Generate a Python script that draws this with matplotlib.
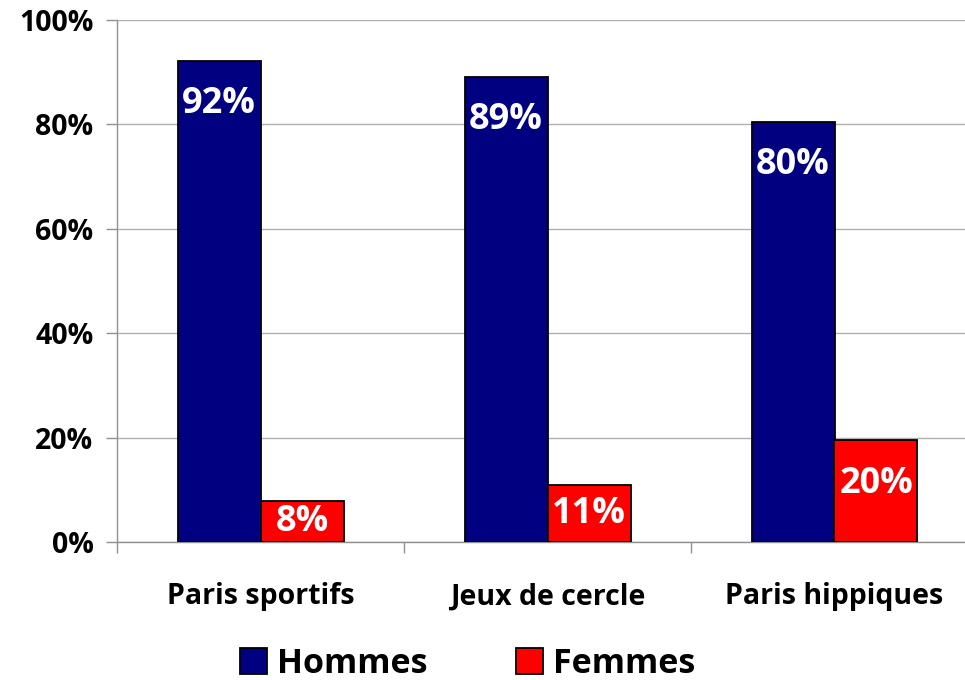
import matplotlib.pyplot as plt
import numpy as np

categories = ['Paris sportifs', 'Jeux de cercle', 'Paris hippiques']
hommes = [92.2, 89.1, 80.5]
femmes = [7.8, 10.9, 19.5]
hommes_labels = ['92%', '89%', '80%']
femmes_labels = ['8%', '11%', '20%']
yticks = [0, 20, 40, 60, 80, 100]

plt.rcParams['font.family'] = ['Open Sans', 'DejaVu Sans']
plt.rcParams['font.weight'] = 'bold'

fig = plt.figure(figsize=(9.65, 6.8), dpi=100)
ax = fig.add_axes([117 / 965, 1 - 542 / 680, 861 / 965, 522 / 680])

x = np.arange(len(categories))
w = 83 / 287
b1 = ax.bar(x - w / 2, hommes, w, color='#000080', edgecolor='black', linewidth=1.3,
            label='Hommes', zorder=3)
b2 = ax.bar(x + w / 2, femmes, w, color='#ff0000', edgecolor='black', linewidth=1.3,
            label='Femmes', zorder=3)

# labels inside the bar end, centred when the bar is too short
for i in range(len(categories)):
    ax.text(x[i] - w / 2, max(hommes[i] - 8.3, hommes[i] / 2), hommes_labels[i],
            ha='center', va='center', color='white', fontsize=26, fontweight='bold', zorder=4)
    ax.text(x[i] + w / 2, max(femmes[i] - 8.3, femmes[i] / 2), femmes_labels[i],
            ha='center', va='center', color='white', fontsize=26, fontweight='bold', zorder=4)

ax.set_xlim(-0.5, 2.5)
ax.set_ylim(0, 100)
ax.set_yticks(yticks)
ax.set_yticklabels([f'{t}%' for t in yticks], fontsize=20.5, fontweight='bold')
ax.yaxis.grid(True, color='#b0b0b0', linewidth=1, zorder=0)

ax.set_xticks(x)
ax.set_xticklabels(categories, fontsize=20.5, fontweight='bold')
ax.tick_params(axis='x', length=0, pad=29)
ax.set_xticks([-0.5, 0.5, 1.5, 2.5], minor=True)
ax.tick_params(axis='x', which='minor', length=8, color='#909090', width=1)
ax.tick_params(axis='y', length=8, color='#909090', width=1, pad=9)

for s in ['top', 'right']:
    ax.spines[s].set_visible(False)
for s in ['left', 'bottom']:
    ax.spines[s].set_color('#909090')
    ax.spines[s].set_linewidth(1)

leg = fig.legend(handles=[b1, b2], loc='center', bbox_to_anchor=(0.4845, 1 - 664 / 680),
                 ncol=2, frameon=False, handlelength=0.8, handleheight=0.8,
                 columnspacing=2.6, handletextpad=0.3, borderpad=0,
                 prop={'weight': 'bold', 'size': 24.5})

fig.savefig('out.png', dpi=100)
